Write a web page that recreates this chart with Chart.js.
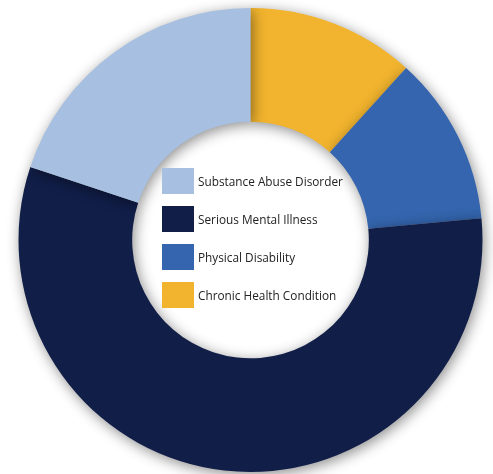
<!DOCTYPE html>
<html>
<head>
<meta charset="utf-8">
<script src="https://cdn.jsdelivr.net/npm/chart.js@4.4.0/dist/chart.umd.min.js"></script>
<style>
  body { margin: 0; background: #fff; }
  #wrap { position: relative; width: 493px; height: 474px; }
  #legend { position: absolute; left: 162px; top: 168px; font-family: "Open Sans", sans-serif; font-size: 11.8px; color: #222; }
  .row { display: flex; align-items: center; height: 26px; margin-bottom: 12px; }
  .box { width: 32px; height: 26px; margin-right: 4px; }
</style>
</head>
<body>
<div id="wrap">
  <canvas id="chart" width="493" height="474"></canvas>
  <div id="legend"></div>
</div>
<script>
// clockwise from 12 o'clock
const labels = ['Chronic Health Condition', 'Physical Disability', 'Serious Mental Illness', 'Substance Abuse Disorder'];
const values = [11.7, 11.8, 56.6, 19.9];
const colors = ['#F2B42E', '#3465AE', '#111E48', '#A7BFE0'];

// legend reads the other way round
const legendOrder = [3, 2, 1, 0];
const legend = document.getElementById('legend');
legendOrder.forEach(i => {
    const row = document.createElement('div');
    row.className = 'row';
    row.innerHTML = `<div class="box" style="background:${colors[i]}"></div><span>${labels[i]}</span>`;
    legend.appendChild(row);
});

const shadow = {
    id: 'shadow',
    beforeDatasetDraw(chart) {
        const ctx = chart.ctx;
        ctx.save();
        ctx.shadowColor = 'rgba(0,0,0,0.45)';
        ctx.shadowBlur = 14;
        ctx.shadowOffsetX = 2;
        ctx.shadowOffsetY = 3;
    },
    afterDatasetDraw(chart) {
        chart.ctx.restore();
    }
};

new Chart(document.getElementById('chart').getContext('2d'), {
    type: 'doughnut',
    data: {
        labels: labels,
        datasets: [{
            data: values,
            backgroundColor: colors,
            borderWidth: 0
        }]
    },
    options: {
        responsive: false,
        animation: false,
        cutout: '51%',
        layout: { padding: { top: 8, bottom: 2, left: 18, right: 10 } },
        plugins: {
            legend: { display: false },
            tooltip: { enabled: false }
        }
    },
    plugins: [shadow]
});
</script>
</body>
</html>
